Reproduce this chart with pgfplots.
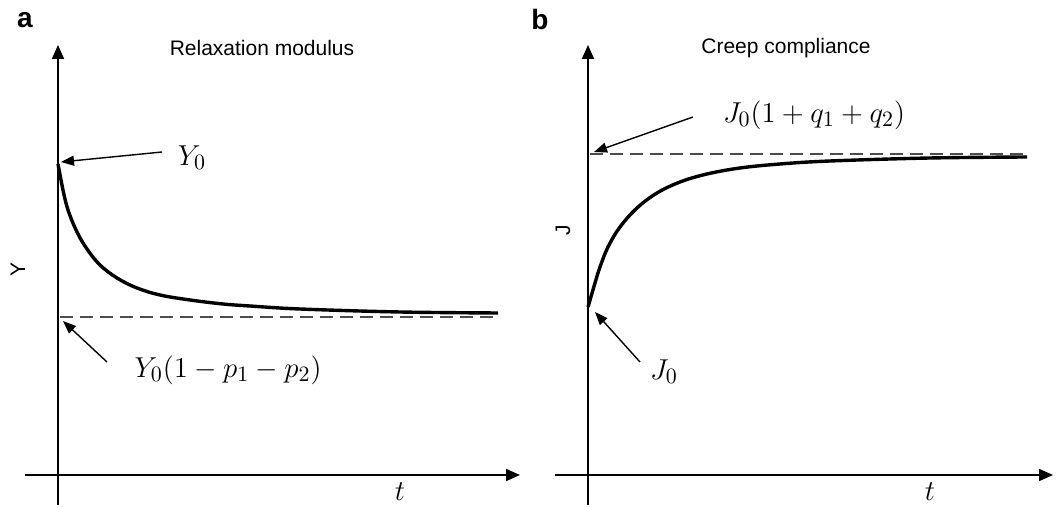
\documentclass[border=0pt]{standalone}
\usepackage{fontspec}
\setsansfont{Liberation Sans}
\usepackage{pgfplots}
\pgfplotsset{compat=1.18}
\usetikzlibrary{arrows.meta}

\pgfplotsset{
  sketch/.style={
    axis lines=middle,
    x=0.5pt, y=0.5pt,
    enlargelimits=false,
    ticks=none,
    clip=false,
    axis line style={line width=0.85pt, -{Triangle[length=7pt,width=6pt]}},
    ymin=-30, ymax=430,
  },
  curve/.style={black, line width=1.7pt, smooth, tension=0.6, mark=none},
  asym/.style={black!70, line width=0.7pt, dash pattern=on 6.5pt off 3.5pt, mark=none},
}
\newcommand{\ann}{\draw[line width=0.7pt, -{Triangle[length=6.5pt,width=5pt]}]}

\begin{document}
\begin{tikzpicture}
\useasboundingbox (0,0) rectangle (528pt,254pt);

% panel a: relaxation modulus
\begin{axis}[sketch, anchor=origin, at={(29pt,16.5pt)}, xmin=-33, xmax=462]
  \addplot[curve] coordinates {
    (0,311) (5,285) (10,265) (19,243) (29,226) (42,210) (59,197)
    (79,187) (102,180) (132,175) (165,171) (192,169) (242,166)
    (342,163) (440,162)
  };
  \addplot[asym] coordinates {(2,158) (442,158)};
  \node[font=\sffamily\fontsize{10.5}{12}\selectfont] at (axis cs:204,427) {Relaxation modulus};
  \node[font=\sffamily\fontsize{10.5}{12}\selectfont, rotate=90] at (axis cs:-40,205) {Y};
  \node[font=\fontsize{15}{17}\selectfont] at (axis cs:342,-17) {$t$};
  \node[font=\fontsize{15}{17}\selectfont] at (axis cs:134,317) {$Y_0$};
  \ann (axis cs:104,323) -- (axis cs:3,313);
  \node[font=\fontsize{15}{17}\selectfont] at (axis cs:170,105) {$Y_0(1-p_1-p_2)$};
  \ann (axis cs:49,113) -- (axis cs:5,154);
\end{axis}
\node[font=\sffamily\bfseries\fontsize{14}{16}\selectfont] at (12.5pt,244pt) {a};

% panel b: creep compliance
\begin{axis}[sketch, anchor=origin, at={(294pt,16.5pt)}, xmin=-33, xmax=465]
  \addplot[curve] coordinates {
    (0,168) (7,192) (12,208) (20,228) (32,248) (49,267) (69,282)
    (92,293) (119,301) (152,307) (192,311) (242,314) (342,317) (439,318)
  };
  \addplot[asym] coordinates {(2,321) (439,321)};
  \node[font=\sffamily\fontsize{10.5}{12}\selectfont] at (axis cs:198,427) {Creep compliance};
  \node[font=\sffamily\fontsize{10.5}{12}\selectfont, rotate=90] at (axis cs:-25,245) {J};
  \node[font=\fontsize{15}{17}\selectfont] at (axis cs:342,-17) {$t$};
  \node[font=\fontsize{15}{17}\selectfont] at (axis cs:226,360) {$J_0(1+q_1+q_2)$};
  \ann (axis cs:105,358) -- (axis cs:6,323);
  \node[font=\fontsize{15}{17}\selectfont] at (axis cs:76,103) {$J_0$};
  \ann (axis cs:52,113) -- (axis cs:7,163);
\end{axis}
\node[font=\sffamily\bfseries\fontsize{14}{16}\selectfont] at (270pt,244pt) {b};
\end{tikzpicture}
\end{document}
